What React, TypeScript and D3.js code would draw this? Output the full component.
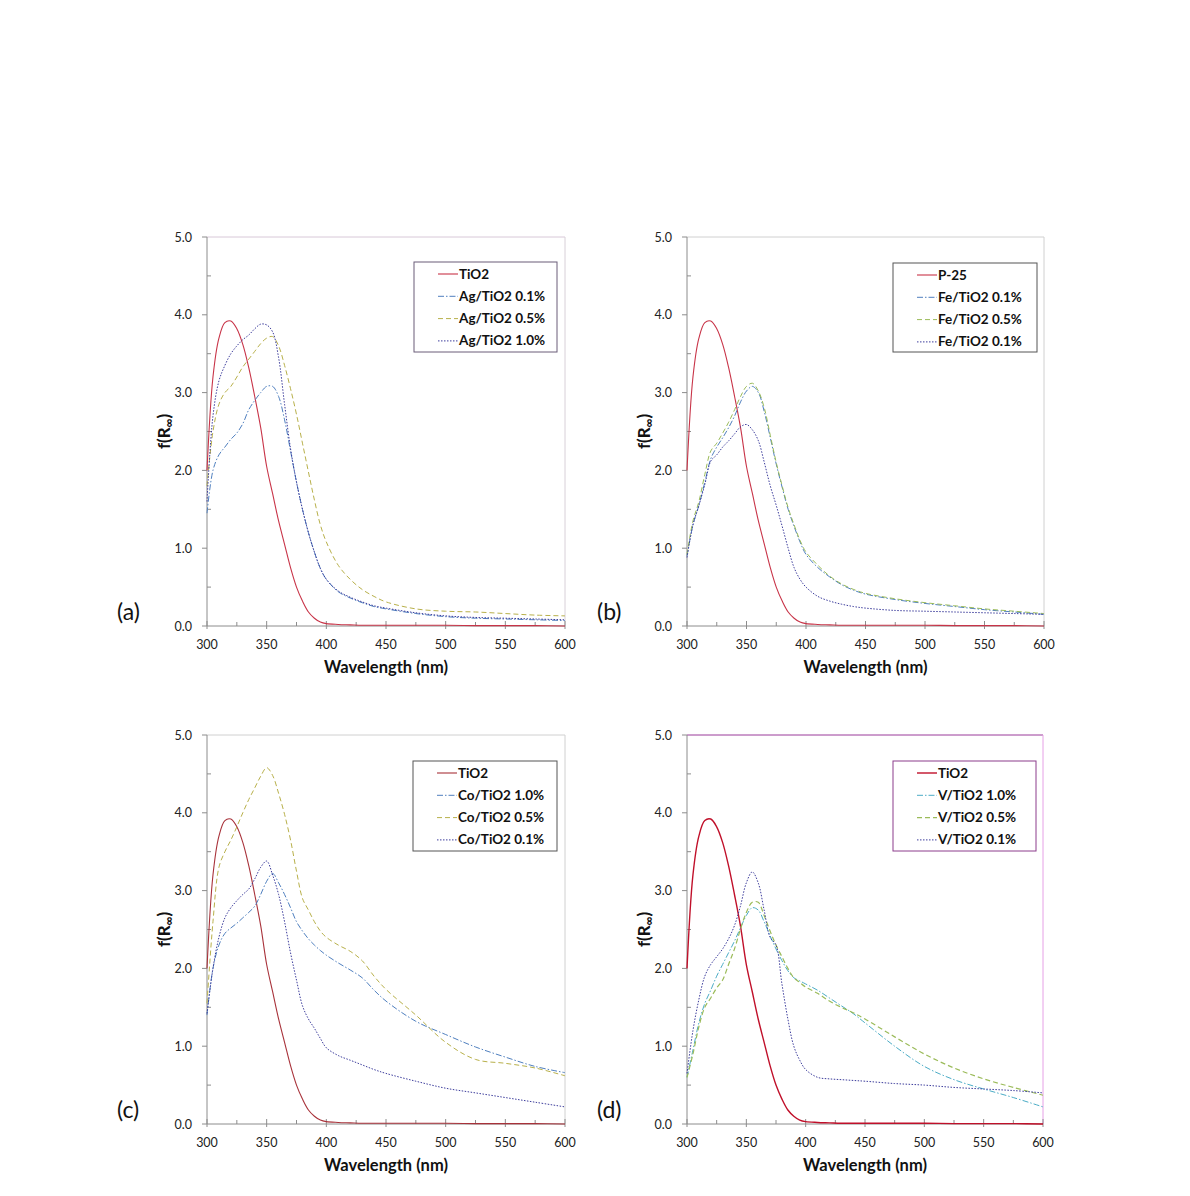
import React from 'react';
import * as d3 from 'd3';

const WL = [300,305,310,315,320,325,330,335,340,345,350,355,360,365,370,375,380,385,390,395,400,410,420,430,440,450,475,500,525,550,575,600];

const X_TICKS = [300,350,400,450,500,550,600];
const Y_TICKS = [0,1,2,3,4,5];

const TIO2 = [2.0,3.2,3.7,3.9,3.92,3.82,3.62,3.32,2.95,2.55,2.05,1.7,1.35,1.05,0.75,0.5,0.32,0.18,0.1,0.05,0.03,0.02,0.015,0.01,0.01,0.01,0.01,0.01,0.005,0.005,0.005,0.0];

const AG_01 = [1.45,2.0,2.2,2.3,2.4,2.48,2.6,2.78,2.9,3.0,3.08,3.08,2.95,2.65,2.25,1.85,1.5,1.2,0.95,0.74,0.6,0.44,0.36,0.3,0.25,0.22,0.16,0.12,0.1,0.09,0.08,0.07];
const AG_05 = [1.8,2.5,2.85,3.0,3.08,3.2,3.33,3.43,3.53,3.63,3.7,3.72,3.6,3.35,3.05,2.72,2.35,1.98,1.62,1.3,1.08,0.78,0.6,0.47,0.38,0.31,0.22,0.19,0.18,0.16,0.14,0.13];
const AG_10 = [1.6,2.7,3.15,3.35,3.5,3.6,3.68,3.74,3.82,3.88,3.87,3.78,3.45,2.85,2.28,1.85,1.5,1.2,0.95,0.74,0.6,0.45,0.37,0.31,0.26,0.23,0.17,0.13,0.11,0.1,0.09,0.08];

const FE_01A = [0.9,1.3,1.55,1.85,2.15,2.3,2.42,2.55,2.7,2.88,3.02,3.08,3.0,2.75,2.42,2.08,1.78,1.5,1.28,1.08,0.92,0.75,0.63,0.53,0.46,0.41,0.34,0.29,0.25,0.21,0.18,0.15];
const FE_05 = [0.92,1.35,1.6,1.95,2.25,2.35,2.48,2.62,2.78,2.95,3.08,3.12,3.02,2.8,2.45,2.1,1.8,1.52,1.3,1.1,0.95,0.78,0.64,0.54,0.47,0.42,0.35,0.3,0.26,0.22,0.19,0.16];
const FE_01B = [0.88,1.3,1.55,1.82,2.12,2.2,2.3,2.38,2.47,2.56,2.59,2.52,2.38,2.1,1.8,1.55,1.28,1.0,0.75,0.6,0.5,0.38,0.32,0.28,0.25,0.23,0.2,0.19,0.18,0.17,0.16,0.15];

const CO_10 = [1.4,2.0,2.3,2.45,2.52,2.58,2.65,2.72,2.8,2.95,3.12,3.22,3.1,2.95,2.78,2.6,2.48,2.38,2.3,2.23,2.17,2.07,1.98,1.88,1.72,1.58,1.32,1.15,0.99,0.86,0.74,0.66];
const CO_05 = [1.55,2.6,3.3,3.5,3.65,3.82,4.0,4.17,4.32,4.47,4.58,4.48,4.25,3.98,3.65,3.25,2.9,2.75,2.6,2.48,2.4,2.3,2.22,2.1,1.9,1.73,1.4,1.05,0.83,0.78,0.72,0.62];
const CO_01 = [1.42,2.0,2.4,2.65,2.78,2.87,2.95,3.02,3.15,3.3,3.38,3.2,2.95,2.6,2.2,1.85,1.52,1.35,1.23,1.1,0.98,0.88,0.82,0.76,0.7,0.65,0.55,0.46,0.4,0.34,0.28,0.22];

const V_10 = [0.6,0.95,1.3,1.55,1.72,1.9,2.05,2.2,2.35,2.52,2.68,2.78,2.75,2.6,2.42,2.25,2.1,1.97,1.88,1.84,1.8,1.72,1.62,1.52,1.42,1.3,1.0,0.74,0.57,0.45,0.34,0.22];
const V_05 = [0.6,0.9,1.25,1.5,1.62,1.75,1.85,2.05,2.25,2.5,2.72,2.85,2.85,2.68,2.48,2.3,2.15,2.0,1.88,1.82,1.76,1.68,1.58,1.5,1.43,1.35,1.12,0.9,0.72,0.58,0.47,0.37];
const V_01 = [0.65,1.2,1.6,1.9,2.05,2.15,2.25,2.38,2.55,2.8,3.1,3.24,3.1,2.75,2.4,2.3,1.8,1.35,1.0,0.82,0.7,0.6,0.58,0.57,0.56,0.55,0.52,0.5,0.47,0.45,0.43,0.4];

const FONT = "Lato, 'Open Sans', 'Liberation Sans', sans-serif";

const DASH_DOT = '6,2,1.5,2';
const DASHED = '5,3';
const DOTTED = '1.5,1.5';

type Series = { name: string; values: number[]; color: string; dash: string | null; width: number };

type PanelProps = {
  left: number; top: number; width: number; height: number;
  label: string;
  series: Series[];
  legendX: number; legendY: number; legendW: number; legendH: number;
  legendBorder: string;
  frameTop: string; frameRight: string;
};

function Panel(p: PanelProps) {
  const x = d3.scaleLinear().domain([300, 600]).range([p.left, p.left + p.width]);
  const y = d3.scaleLinear().domain([0, 5]).range([p.top + p.height, p.top]);
  const line = d3.line<number>()
    .x((_, i) => x(WL[i]))
    .y((d) => y(d))
    .curve(d3.curveCatmullRom.alpha(0.5));
  const axisColor = '#8c8c8c';
  const minorX = d3.range(325, 600, 50);
  const minorY = d3.range(0.5, 5, 1);
  const bottom = p.top + p.height;
  return (
    <g>
      <line x1={p.left} x2={p.left + p.width} y1={p.top} y2={p.top} stroke={p.frameTop} strokeWidth={1} />
      <line x1={p.left + p.width} x2={p.left + p.width} y1={p.top} y2={bottom} stroke={p.frameRight} strokeWidth={1} />
      <line x1={p.left} x2={p.left + p.width} y1={bottom} y2={bottom} stroke={axisColor} strokeWidth={1} />
      <line x1={p.left} x2={p.left} y1={p.top} y2={bottom} stroke={axisColor} strokeWidth={1} />
      {X_TICKS.map((t) => (
        <g key={'xt' + t}>
          <line x1={x(t)} x2={x(t)} y1={bottom - 5} y2={bottom + 3} stroke={axisColor} />
          <text x={x(t)} y={bottom + 23} textAnchor="middle" fontFamily={FONT} fontSize={12.5} fill="#222">{t}</text>
        </g>
      ))}
      {minorX.map((t) => (
        <line key={'mx' + t} x1={x(t)} x2={x(t)} y1={bottom - 4} y2={bottom} stroke={axisColor} />
      ))}
      {Y_TICKS.map((t) => (
        <g key={'yt' + t}>
          <line x1={p.left - 5} x2={p.left} y1={y(t)} y2={y(t)} stroke={axisColor} />
          <text x={p.left - 15} y={y(t) + 4.5} textAnchor="end" fontFamily={FONT} fontSize={12.5} fill="#222">{t.toFixed(1)}</text>
        </g>
      ))}
      {minorY.map((t) => (
        <line key={'my' + t} x1={p.left} x2={p.left + 4} y1={y(t)} y2={y(t)} stroke={axisColor} />
      ))}
      {p.series.map((s) => (
        <path key={s.name} d={line(s.values) || ''} fill="none" stroke={s.color} strokeWidth={s.width}
          strokeDasharray={s.dash || undefined} />
      ))}
      <rect x={p.legendX} y={p.legendY} width={p.legendW} height={p.legendH} fill="#fff" stroke={p.legendBorder} strokeWidth={1} />
      {p.series.map((s, i) => {
        const ly = p.legendY + 12 + i * 22.3;
        return (
          <g key={'lg' + i}>
            <line x1={p.legendX + 24} x2={p.legendX + 44} y1={ly} y2={ly} stroke={s.color} strokeWidth={s.width}
              strokeDasharray={s.dash || undefined} />
            <text x={p.legendX + 45} y={ly + 4.5} fontFamily={FONT} fontSize={13.5} fontWeight="bold" fill="#111">{s.name}</text>
          </g>
        );
      })}
      <text x={p.left + p.width / 2} y={bottom + 47} textAnchor="middle" fontFamily={FONT} fontSize={16.5} fontWeight="bold" fill="#111">Wavelength (nm)</text>
      <text transform={`translate(${p.left - 37},${p.top + p.height / 2}) rotate(-90)`} textAnchor="middle"
        fontFamily={FONT} fontSize={17} fontWeight="bold" fill="#111">
        f(R<tspan fontSize={12} dy={3}>∞</tspan><tspan dy={-3}>)</tspan>
      </text>
      <text x={p.left - 90} y={bottom - 6} textAnchor="start" fontFamily={FONT} fontSize={23} fill="#111">{p.label}</text>
    </g>
  );
}

const RED_A = '#c83448';
const RED_C = '#a8323a';
const RED_D = '#c0102a';
const DARK_BLUE = '#3c3c9c';
const LIGHT_BLUE = '#4f7fbf';
const TEAL = '#4bacc6';
const OLIVE = '#b8b04a';
const GREEN = '#9bbb59';

export default function App() {
  return (
    <div style={{ position: 'absolute', left: 0, top: 0, width: 1190, height: 1196, background: '#fff' }}>
      <svg width={1190} height={1196} style={{ display: 'block' }}>
        <rect width={1190} height={1196} fill="#fff" />
        <Panel left={207} top={237} width={358} height={389} label="(a)"
          legendX={414} legendY={262} legendW={143} legendH={90} legendBorder="#6a5c78"
          frameTop="#d8c8d8" frameRight="#d8d0d8"
          series={[
            { name: 'TiO2', values: TIO2, color: RED_A, dash: null, width: 1.1 },
            { name: 'Ag/TiO2 0.1%', values: AG_01, color: LIGHT_BLUE, dash: DASH_DOT, width: 1 },
            { name: 'Ag/TiO2 0.5%', values: AG_05, color: OLIVE, dash: DASHED, width: 1 },
            { name: 'Ag/TiO2 1.0%', values: AG_10, color: DARK_BLUE, dash: DOTTED, width: 1 },
          ]} />
        <Panel left={687} top={237} width={357} height={389} label="(b)"
          legendX={893} legendY={263} legendW={144} legendH={89} legendBorder="#555555"
          frameTop="#d0d0d0" frameRight="#d0d0d0"
          series={[
            { name: 'P-25', values: TIO2, color: RED_A, dash: null, width: 1.1 },
            { name: 'Fe/TiO2 0.1%', values: FE_01A, color: LIGHT_BLUE, dash: DASH_DOT, width: 1 },
            { name: 'Fe/TiO2 0.5%', values: FE_05, color: GREEN, dash: DASHED, width: 1 },
            { name: 'Fe/TiO2 0.1%', values: FE_01B, color: DARK_BLUE, dash: DOTTED, width: 1 },
          ]} />
        <Panel left={207} top={735} width={358} height={389} label="(c)"
          legendX={413} legendY={761} legendW={144} legendH={90} legendBorder="#555555"
          frameTop="#d0d0d0" frameRight="#d0d0d0"
          series={[
            { name: 'TiO2', values: TIO2, color: RED_C, dash: null, width: 1.1 },
            { name: 'Co/TiO2 1.0%', values: CO_10, color: LIGHT_BLUE, dash: DASH_DOT, width: 1 },
            { name: 'Co/TiO2 0.5%', values: CO_05, color: OLIVE, dash: DASHED, width: 1 },
            { name: 'Co/TiO2 0.1%', values: CO_01, color: DARK_BLUE, dash: DOTTED, width: 1 },
          ]} />
        <Panel left={687} top={735} width={356} height={389} label="(d)"
          legendX={893} legendY={761} legendW={143} legendH={90} legendBorder="#8c3d8c"
          frameTop="#9a3a9a" frameRight="#e6a0e6"
          series={[
            { name: 'TiO2', values: TIO2, color: RED_D, dash: null, width: 1.4 },
            { name: 'V/TiO2 1.0%', values: V_10, color: TEAL, dash: DASH_DOT, width: 1 },
            { name: 'V/TiO2 0.5%', values: V_05, color: GREEN, dash: DASHED, width: 1.2 },
            { name: 'V/TiO2 0.1%', values: V_01, color: DARK_BLUE, dash: DOTTED, width: 1 },
          ]} />
      </svg>
    </div>
  );
}
